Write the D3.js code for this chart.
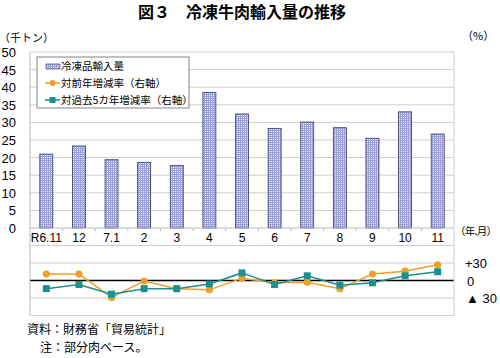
<!DOCTYPE html>
<html>
<head>
<meta charset="utf-8">
<script src="https://cdn.jsdelivr.net/npm/d3@7"></script>
<style>
  body { margin: 0; background: #fff; }
  svg { font-family: "Liberation Sans", Arial, "Noto Sans CJK JP", sans-serif; }
  .jp { font-family: "Noto Sans CJK JP", sans-serif; }
</style>
</head>
<body>
<div id="chart"></div>
<script>
// months (R6.11 - R7.11)
const months = ["R6.11", "12", "7.1", "2", "3", "4", "5", "6", "7", "8", "9", "10", "11"];
// frozen beef imports, thousand tonnes
const imports = [21.0, 23.3, 19.4, 18.6, 17.8, 38.5, 32.4, 28.3, 30.1, 28.5, 25.5, 33.0, 26.7];
// year-on-year change (%)
const yoy = [11, 11, -29, -1, -14, -16, 4, -4, -3, -14, 11, 16, 27];
// change vs 5-year average (%)
const vs5yr = [-14, -7, -23.5, -14, -14, -6, 13, -7, 8, -8, -4, 8, 15];
const leftTicks = [0, 5, 10, 15, 20, 25, 30, 35, 40, 45, 50];
const rightTicks = [{v: 30, t: "+30"}, {v: 0, t: "0"}, {v: -30, t: "▲ 30"}];

const W = 500, H = 358;
const svg = d3.select("#chart").append("svg").attr("width", W).attr("height", H);

const left = 30, right = 454;
const x = d3.scaleBand().domain(months).range([left, right]);
const y = d3.scaleLinear().domain([0, 50]).range([228, 52]);
const y2 = d3.scaleLinear().domain([-60, 60]).range([315.5, 245.5]);

// bar hatch pattern
const defs = svg.append("defs");
const pat = defs.append("pattern").attr("id", "grid").attr("patternUnits", "userSpaceOnUse")
  .attr("width", 2).attr("height", 2);
pat.append("rect").attr("width", 2).attr("height", 2).attr("fill", "#e6e8f8");
pat.append("rect").attr("width", 1).attr("height", 2).attr("fill", "#9aa0da");
pat.append("rect").attr("width", 2).attr("height", 1).attr("fill", "#9aa0da");

// title
svg.append("text").attr("class", "jp").attr("x", 242).attr("y", 18).attr("text-anchor", "middle")
  .attr("font-size", 16).attr("font-weight", "bold").text("図３　冷凍牛肉輸入量の推移");

svg.append("text").attr("class", "jp").attr("x", -1).attr("y", 42).attr("font-size", 11).text("（千トン）");
svg.append("text").attr("class", "jp").attr("x", 462).attr("y", 40).attr("font-size", 11).text("（%）");

// gridlines top
svg.append("g").selectAll("line").data(leftTicks.filter(d => d > 0)).join("line")
  .attr("x1", left).attr("x2", right).attr("y1", d => y(d)).attr("y2", d => y(d))
  .attr("stroke", "#cfcfcf").attr("stroke-width", 1);

// left tick labels
svg.append("g").selectAll("text").data(leftTicks).join("text")
  .attr("x", 16).attr("y", d => y(d) + 5).attr("text-anchor", "end")
  .attr("font-size", 13).text(d => d);

// bars
const bw = 13;
svg.append("g").selectAll("rect").data(imports).join("rect")
  .attr("x", (d, i) => x(months[i]) + x.bandwidth() / 2 - bw / 2)
  .attr("y", d => y(d)).attr("width", bw).attr("height", d => y(0) - y(d))
  .attr("fill", "url(#grid)").attr("stroke", "#3a3a5a").attr("stroke-width", 0.8);

// x axis baseline and ticks
svg.append("line").attr("x1", left).attr("x2", right).attr("y1", y(0)).attr("y2", y(0))
  .attr("stroke", "#bbb");
svg.append("g").selectAll("line").data(months.slice(1)).join("line")
  .attr("x1", d => x(d)).attr("x2", d => x(d)).attr("y1", y(0)).attr("y2", y(0) + 3)
  .attr("stroke", "#bbb");
svg.append("g").selectAll("text").data(months).join("text")
  .attr("x", d => x(d) + x.bandwidth() / 2).attr("y", 242).attr("text-anchor", "middle")
  .attr("font-size", 12).text(d => d);
svg.append("text").attr("class", "jp").attr("x", 455).attr("y", 235).attr("font-size", 10.5)
  .attr("textLength", 42).text("（年.月）");

// bottom panel gridlines
const bottomGrid = [60, 30, -30, -60];
svg.append("g").selectAll("line").data(bottomGrid).join("line")
  .attr("x1", left).attr("x2", right).attr("y1", d => y2(d)).attr("y2", d => y2(d))
  .attr("stroke", "#cfcfcf");
svg.append("line").attr("x1", left).attr("x2", right).attr("y1", y2(0)).attr("y2", y2(0))
  .attr("stroke", "#000").attr("stroke-width", 1.5);

// axis verticals
svg.append("line").attr("x1", left).attr("x2", left).attr("y1", y(50)).attr("y2", y2(-60)).attr("stroke", "#bbb");
svg.append("line").attr("x1", right).attr("x2", right).attr("y1", y(50)).attr("y2", y2(-60)).attr("stroke", "#cfcfcf");

// right tick labels
svg.append("g").selectAll("text").data(rightTicks).join("text")
  .attr("x", d => d.v === 0 ? 467 : (d.v > 0 ? 465 : 466)).attr("y", d => y2(d.v) + 5)
  .attr("font-size", 13).text(d => d.t);

// lines
const cx = (d, i) => x(months[i]) + x.bandwidth() / 2;
const line = d3.line().x(cx).y(d => y2(d));
const orange = "#f0a02a", teal = "#1a9090";
svg.append("path").datum(yoy).attr("d", line).attr("fill", "none").attr("stroke", orange).attr("stroke-width", 1.5);
svg.append("path").datum(vs5yr).attr("d", line).attr("fill", "none").attr("stroke", teal).attr("stroke-width", 1.5);
svg.append("g").selectAll("circle").data(yoy).join("circle")
  .attr("cx", cx).attr("cy", d => y2(d)).attr("r", 3.6).attr("fill", orange);
svg.append("g").selectAll("rect").data(vs5yr).join("rect")
  .attr("x", (d, i) => cx(d, i) - 3.5).attr("y", d => y2(d) - 3.5).attr("width", 7).attr("height", 7)
  .attr("fill", teal);

// legend
const lg = svg.append("g");
lg.append("rect").attr("x", 37).attr("y", 57).attr("width", 152).attr("height", 51)
  .attr("fill", "#fff").attr("stroke", "#666").attr("stroke-width", 0.8);
const legendItems = ["冷凍品輸入量", "対前年増減率（右軸）", "対過去5カ年増減率（右軸）"];
lg.selectAll("text").data(legendItems).join("text").attr("class", "jp")
  .attr("x", 61).attr("y", (d, i) => 70 + i * 17).attr("font-size", 10.5).text(d => d);
lg.append("rect").attr("x", 46).attr("y", 64).attr("width", 14).attr("height", 5)
  .attr("fill", "url(#grid)").attr("stroke", "#3a3a5a").attr("stroke-width", 0.6);
lg.append("line").attr("x1", 45).attr("x2", 60).attr("y1", 83).attr("y2", 83).attr("stroke", orange).attr("stroke-width", 1.5);
lg.append("circle").attr("cx", 52.5).attr("cy", 83).attr("r", 3).attr("fill", orange);
lg.append("line").attr("x1", 45).attr("x2", 60).attr("y1", 100).attr("y2", 100).attr("stroke", teal).attr("stroke-width", 1.5);
lg.append("rect").attr("x", 49.5).attr("y", 97).attr("width", 6).attr("height", 6).attr("fill", teal);

// footer notes
svg.append("text").attr("class", "jp").attr("x", 27).attr("y", 334).attr("font-size", 12).text("資料：財務省「貿易統計」");
svg.append("text").attr("class", "jp").attr("x", 40).attr("y", 352).attr("font-size", 12).text("注：部分肉ベース。");
</script>
</body>
</html>
